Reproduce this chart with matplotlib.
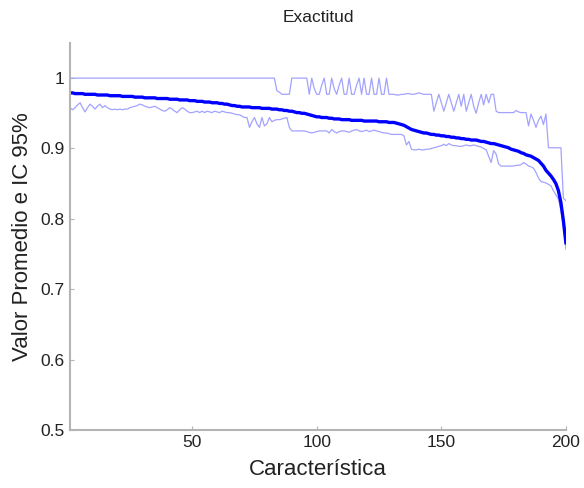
import numpy as np
import matplotlib.pyplot as plt

plt.rcParams['font.family'] = ['Liberation Sans', 'DejaVu Sans']

# promedio de exactitud por número de características
promedio = [
    0.979, 0.979, 0.978, 0.978, 0.978, 0.978, 0.977, 0.977, 0.977, 0.977,
    0.977, 0.976, 0.976, 0.976, 0.976, 0.976, 0.975, 0.975, 0.975, 0.975,
    0.975, 0.974, 0.974, 0.974, 0.974, 0.974, 0.973, 0.973, 0.973, 0.973,
    0.972, 0.972, 0.972, 0.972, 0.972, 0.971, 0.971, 0.971, 0.971, 0.971,
    0.970, 0.970, 0.970, 0.970, 0.969, 0.969, 0.969, 0.969, 0.968, 0.968,
    0.968, 0.967, 0.967, 0.967, 0.966, 0.966, 0.966, 0.965, 0.965, 0.965,
    0.964, 0.964, 0.963, 0.963, 0.962, 0.961, 0.961, 0.960, 0.960, 0.959,
    0.959, 0.959, 0.959, 0.958, 0.958, 0.958, 0.958, 0.957, 0.957, 0.957,
    0.957, 0.956, 0.956, 0.956, 0.955, 0.955, 0.954, 0.954, 0.953, 0.953,
    0.952, 0.951, 0.951, 0.950, 0.950, 0.949, 0.948, 0.947, 0.946, 0.945,
    0.945, 0.944, 0.944, 0.944, 0.943, 0.943, 0.942, 0.942, 0.942, 0.941,
    0.941, 0.941, 0.941, 0.940, 0.940, 0.940, 0.940, 0.940, 0.939, 0.939,
    0.939, 0.939, 0.939, 0.939, 0.938, 0.938, 0.938, 0.938, 0.937, 0.937,
    0.937, 0.936, 0.935, 0.934, 0.933, 0.931, 0.929, 0.927, 0.926, 0.925,
    0.924, 0.923, 0.922, 0.922, 0.921, 0.920, 0.920, 0.919, 0.919, 0.918,
    0.918, 0.917, 0.917, 0.916, 0.916, 0.915, 0.915, 0.914, 0.914, 0.913,
    0.913, 0.912, 0.912, 0.912, 0.911, 0.910, 0.910, 0.909, 0.908, 0.907,
    0.907, 0.906, 0.905, 0.904, 0.903, 0.902, 0.901, 0.899, 0.898, 0.897,
    0.896, 0.894, 0.893, 0.891, 0.890, 0.889, 0.887, 0.885, 0.883, 0.879,
    0.875, 0.869, 0.865, 0.861, 0.856, 0.850, 0.840, 0.823, 0.797, 0.766,
]

# límite superior del IC 95%
ic_sup = [
    1.0, 1.0, 1.0, 1.0, 1.0, 1.0, 1.0, 1.0, 1.0, 1.0,
    1.0, 1.0, 1.0, 1.0, 1.0, 1.0, 1.0, 1.0, 1.0, 1.0,
    1.0, 1.0, 1.0, 1.0, 1.0, 1.0, 1.0, 1.0, 1.0, 1.0,
    1.0, 1.0, 1.0, 1.0, 1.0, 1.0, 1.0, 1.0, 1.0, 1.0,
    1.0, 1.0, 1.0, 1.0, 1.0, 1.0, 1.0, 1.0, 1.0, 1.0,
    1.0, 1.0, 1.0, 1.0, 1.0, 1.0, 1.0, 1.0, 1.0, 1.0,
    1.0, 1.0, 1.0, 1.0, 1.0, 1.0, 1.0, 1.0, 1.0, 1.0,
    1.0, 1.0, 1.0, 1.0, 1.0, 1.0, 1.0, 1.0, 1.0, 1.0,
    1.0, 1.0, 1.0, 0.982, 0.980, 0.977, 0.977, 0.977, 0.977, 1.0,
    1.0, 1.0, 1.0, 1.0, 1.0, 1.0, 0.977, 1.0, 0.985, 0.977,
    0.977, 0.990, 1.0, 0.977, 0.977, 1.0, 0.985, 0.977, 0.990, 1.0,
    0.977, 0.977, 1.0, 0.977, 0.977, 0.990, 1.0, 0.977, 1.0, 0.977,
    0.977, 1.0, 0.977, 0.977, 1.0, 0.977, 0.977, 1.0, 0.977, 0.977,
    0.977, 0.976, 0.976, 0.977, 0.977, 0.978, 0.978, 0.977, 0.977, 0.978,
    0.979, 0.978, 0.977, 0.977, 0.977, 0.977, 0.953, 0.965, 0.977, 0.965,
    0.953, 0.965, 0.977, 0.965, 0.953, 0.965, 0.977, 0.960, 0.977, 0.953,
    0.965, 0.977, 0.960, 0.950, 0.965, 0.977, 0.962, 0.977, 0.965, 0.977,
    0.977, 0.953, 0.951, 0.951, 0.951, 0.951, 0.951, 0.951, 0.951, 0.954,
    0.952, 0.951, 0.951, 0.951, 0.932, 0.949, 0.940, 0.930, 0.940, 0.946,
    0.934, 0.949, 0.901, 0.901, 0.901, 0.901, 0.901, 0.901, 0.829, 0.826,
]

# límite inferior del IC 95%
ic_inf = [
    0.958, 0.955, 0.958, 0.962, 0.965, 0.958, 0.952, 0.958, 0.963, 0.960,
    0.956, 0.960, 0.963, 0.958, 0.961, 0.958, 0.956, 0.955, 0.956, 0.955,
    0.956, 0.955, 0.956, 0.956, 0.958, 0.959, 0.960, 0.961, 0.963, 0.962,
    0.960, 0.959, 0.958, 0.959, 0.960, 0.958, 0.956, 0.954, 0.953, 0.955,
    0.958, 0.956, 0.953, 0.951, 0.955, 0.958, 0.956, 0.953, 0.951, 0.951,
    0.952, 0.953, 0.951, 0.953, 0.951, 0.953, 0.952, 0.951, 0.953, 0.952,
    0.951, 0.953, 0.952, 0.951, 0.951, 0.950, 0.949, 0.948, 0.948, 0.946,
    0.944, 0.944, 0.930, 0.938, 0.944, 0.935, 0.930, 0.944, 0.932, 0.935,
    0.944, 0.938, 0.940, 0.941, 0.941, 0.942, 0.943, 0.944, 0.930, 0.925,
    0.925, 0.925, 0.925, 0.925, 0.925, 0.924, 0.923, 0.922, 0.923, 0.924,
    0.925, 0.925, 0.925, 0.925, 0.922, 0.927, 0.924, 0.922, 0.924, 0.925,
    0.925, 0.924, 0.923, 0.925, 0.926, 0.927, 0.925, 0.924, 0.925, 0.926,
    0.924, 0.925, 0.926, 0.925, 0.924, 0.923, 0.922, 0.922, 0.921, 0.920,
    0.920, 0.920, 0.920, 0.920, 0.918, 0.905, 0.910, 0.899, 0.898, 0.898,
    0.899, 0.898, 0.898, 0.899, 0.899, 0.900, 0.901, 0.902, 0.903, 0.904,
    0.906, 0.904, 0.907, 0.905, 0.904, 0.904, 0.903, 0.903, 0.904, 0.905,
    0.904, 0.904, 0.905, 0.904, 0.903, 0.902, 0.900, 0.898, 0.889, 0.880,
    0.897, 0.892, 0.878, 0.875, 0.875, 0.875, 0.875, 0.875, 0.875, 0.876,
    0.876, 0.877, 0.880, 0.878, 0.875, 0.874, 0.872, 0.866, 0.858, 0.853,
    0.852, 0.851, 0.849, 0.847, 0.840, 0.834, 0.828, 0.812, 0.790, 0.757,
]

y_ticks = [0.5, 0.6, 0.7, 0.8, 0.9, 1.0]
y_labels = ['0.5', '0.6', '0.7', '0.8', '0.9', '1']
x_ticks = [50, 100, 150, 200]


def main():
    n = np.arange(1, len(promedio) + 1)

    fig = plt.figure(figsize=(5.84, 4.88), dpi=100)
    ax = fig.add_axes([0.12, 0.119, 0.849, 0.793])

    # intervalos en azul claro, promedio en azul grueso
    ax.plot(n, ic_sup, color='#a3a3ff', lw=0.9)
    ax.plot(n, ic_inf, color='#a3a3ff', lw=0.9)
    ax.plot(n, promedio, color='#0000ff', lw=2.4)

    ax.set_xlim(1, 200)
    ax.set_ylim(0.5, 1.05)
    ax.set_xticks(x_ticks)
    ax.set_yticks(y_ticks)
    ax.set_yticklabels(y_labels)

    # ejes al estilo matlab: solo izquierda y abajo, en gris
    for s in ['top', 'right']:
        ax.spines[s].set_visible(False)
    for s in ['left', 'bottom']:
        ax.spines[s].set_color('#b4b4b4')
        ax.spines[s].set_linewidth(1.5)
    ax.tick_params(direction='in', length=3, width=0.8, color='#b4b4b4',
                   labelsize=12.5, labelcolor='#222222', pad=4)

    ax.set_title('Exactitud', fontsize=12.5, color='#222222', pad=15)
    ax.set_xlabel('Característica', fontsize=16, color='#222222', labelpad=6)
    ax.set_ylabel('Valor Promedio e IC 95%', fontsize=16, color='#222222', labelpad=5)

    fig.savefig('out.png', dpi=100)


if __name__ == '__main__':
    main()
